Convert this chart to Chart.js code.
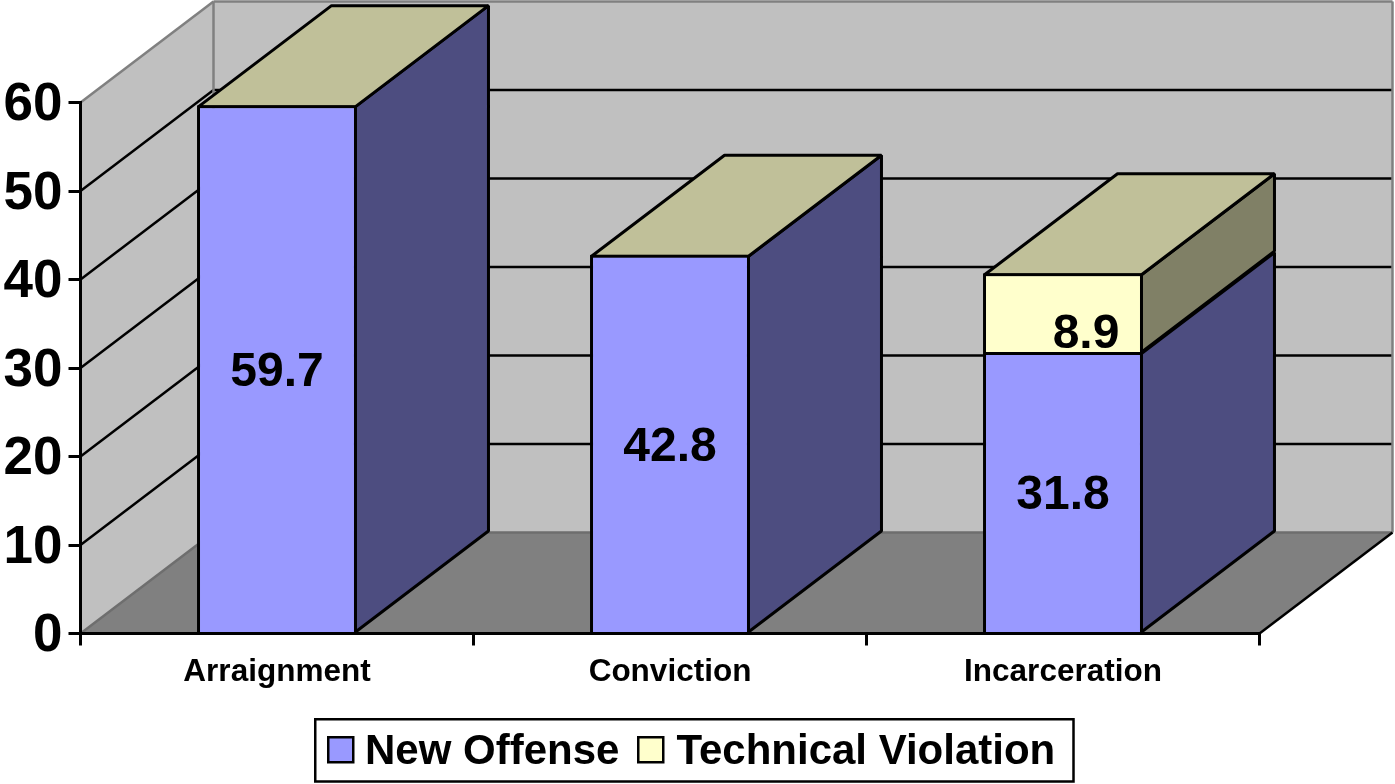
<!DOCTYPE html>
<html>
<head>
<meta charset="utf-8">
<style>html,body{margin:0;padding:0;background:#fff}canvas{display:block}</style>
<script src="https://cdn.jsdelivr.net/npm/chart.js@4/dist/chart.umd.min.js"></script>
</head>
<body>
<canvas id="c" width="1395" height="784"></canvas>
<script>
const categories = ['Arraignment', 'Conviction', 'Incarceration'];
const newOffense = [59.7, 42.8, 31.8];
const technicalViolation = [0, 0, 8.9];
const seriesNames = ['New Offense', 'Technical Violation'];
const yMax = 60;
const yStep = 10;

const FONT = '"Liberation Sans", Arial, sans-serif';
const DX = 133, DY = -101;
const LINE = 3;
const FRONT = ['#9999FF', '#FFFFCC'];
const SIDE = ['#4D4D80', '#808066'];
const TOP = '#C0C099';

function poly(ctx, pts, fill, stroke, lw) {
  ctx.beginPath();
  pts.forEach((p, i) => i ? ctx.lineTo(p[0], p[1]) : ctx.moveTo(p[0], p[1]));
  ctx.closePath();
  if (fill) { ctx.fillStyle = fill; ctx.fill(); }
  if (stroke) { ctx.strokeStyle = stroke; ctx.lineWidth = lw || 2; ctx.lineJoin = 'bevel'; ctx.stroke(); }
}
function seg(ctx, x1, y1, x2, y2, color, lw) {
  ctx.beginPath(); ctx.moveTo(x1, y1); ctx.lineTo(x2, y2);
  ctx.strokeStyle = color; ctx.lineWidth = lw; ctx.stroke();
}

const box3d = {
  id: 'box3d',
  afterLayout(chart) {
    const L = chart.legend;
    const w = L.right - L.left, h = L.bottom - L.top;
    L.left = 308; L.right = L.left + w;
    L.top = 731 - L.options.labels.padding; L.bottom = L.top + h;
    // the reference's value-axis numbers sit a little below their tick marks
    const y = chart.scales.y;
    if (!y._shifted) {
      const draw = y.drawLabels;
      y.drawLabels = function (area) {
        const ctx = this.ctx;
        ctx.save(); ctx.translate(0, 3); draw.call(this, area); ctx.restore();
      };
      y._shifted = true;
    }
  },
  beforeDraw(chart) {
    const ctx = chart.ctx, a = chart.chartArea, y = chart.scales.y;
    const l = a.left, r = a.right, t = y.getPixelForValue(yMax), b = y.getPixelForValue(0);
    ctx.save();
    // walls and floor
    poly(ctx, [[l, b], [l, t], [l + DX, t + DY], [l + DX, b + DY]], '#C0C0C0');
    poly(ctx, [[l + DX, t + DY], [r + DX, t + DY], [r + DX, b + DY], [l + DX, b + DY]], '#C0C0C0');
    poly(ctx, [[l, b], [l + DX, b + DY], [r + DX, b + DY], [r, b]], '#808080');
    // gridlines across side wall and back wall
    y.ticks.forEach(tk => {
      const p = y.getPixelForValue(tk.value);
      const col = tk.value === 0 ? '#6E6E6E' : tk.value === yMax ? '#808080' : '#000000';
      seg(ctx, l, p, l + DX, p + DY, col, 2.5);
      seg(ctx, l + DX, p + DY, r + DX, p + DY, col, 2.5);
    });
    seg(ctx, l + DX, t + DY, l + DX, b + DY, '#808080', 2.5);
    seg(ctx, r + DX, t + DY, r + DX, b + DY, '#808080', 2.5);
    seg(ctx, r, b, r + DX, b + DY, '#000000', 2.5);
    // legend frame
    ctx.fillStyle = '#FFFFFF';
    ctx.fillRect(315.25, 719.25, 758.25, 62.25);
    ctx.strokeStyle = '#000000'; ctx.lineWidth = 2.5;
    ctx.strokeRect(315.25, 719.25, 758.25, 62.25);
    ctx.restore();
  },
  beforeDatasetsDraw(chart) {
    const ctx = chart.ctx;
    const last = chart.data.datasets.length - 1;
    ctx.save();
    chart.data.labels.forEach((_, j) => {
      chart.data.datasets.forEach((ds, i) => {
        const e = chart.getDatasetMeta(i).data[j].getProps(['x', 'y', 'base', 'width'], true);
        const xl = e.x - e.width / 2 + LINE / 2, xr = e.x + e.width / 2 - LINE / 2;
        const yt = e.y + LINE / 2;
        if (e.base - e.y > 0.5) {
          poly(ctx, [[xr, yt], [xr + DX, yt + DY], [xr + DX, e.base + DY], [xr, e.base]], SIDE[i], '#000000', LINE);
        }
        if (i === last) {
          poly(ctx, [[xl, yt], [xl + DX, yt + DY], [xr + DX, yt + DY], [xr, yt]], TOP, '#000000', LINE);
        }
      });
    });
    ctx.restore();
  },
  afterDatasetsDraw(chart) {
    const ctx = chart.ctx;
    ctx.save();
    ctx.font = 'bold 48px ' + FONT;
    ctx.fillStyle = '#000000';
    ctx.textAlign = 'center';
    ctx.textBaseline = 'middle';
    chart.data.datasets.forEach((ds, i) => {
      chart.getDatasetMeta(i).data.forEach((el, j) => {
        const v = ds.data[j];
        if (!v) return;
        const e = el.getProps(['x', 'y', 'base'], true);
        const tx = i === 1 ? e.x + 23 : e.x;
        const ty = (e.y + e.base) / 2 + (i === 1 ? 22 : 4);
        ctx.fillText(v.toFixed(1), tx, ty);
      });
    });
    ctx.restore();
  },
  afterDraw(chart) {
    const ctx = chart.ctx;
    ctx.save();
    const itemsX = [328.25, 638.25];
    FRONT.forEach((c, i) => {
      ctx.fillStyle = c; ctx.strokeStyle = '#000000'; ctx.lineWidth = 2.5;
      ctx.fillRect(itemsX[i], 737.25, 25, 25);
      ctx.strokeRect(itemsX[i], 737.25, 25, 25);
    });
    ctx.restore();
  }
};

new Chart(document.getElementById('c'), {
  type: 'bar',
  data: {
    labels: categories,
    datasets: [
      { label: seriesNames[0], data: newOffense, backgroundColor: FRONT[0], borderColor: '#000000', borderWidth: LINE },
      { label: seriesNames[1], data: technicalViolation, backgroundColor: FRONT[1], borderColor: '#000000', borderWidth: LINE }
    ]
  },
  options: {
    responsive: false,
    animation: false,
    events: [],
    layout: { padding: { top: 102.5, right: 135.5, left: 0, bottom: 0 } },
    datasets: { bar: { categoryPercentage: 1, barPercentage: 0.407 } },
    plugins: {
      tooltip: { enabled: false },
      title: { display: false },
      legend: {
        display: true,
        position: 'bottom',
        align: 'start',
        labels: {
          color: '#000000',
          boxWidth: 17, boxHeight: 17, padding: 19,
          font: { family: FONT, size: 42, weight: 'bold' },
          generateLabels(chart) {
            return Chart.defaults.plugins.legend.labels.generateLabels(chart)
              .map(item => ({ ...item, lineWidth: 0 }));
          }
        }
      }
    },
    scales: {
      x: {
        stacked: true,
        afterFit(s) { s.height = 150.5 - s.chart.legend.height; },
        grid: { display: true, drawOnChartArea: false, drawTicks: true, tickLength: 12, color: '#000000', lineWidth: 3, offset: true },
        border: { display: true, color: '#000000', width: 3 },
        ticks: { color: '#000000', padding: 8, maxRotation: 0, font: { family: FONT, size: 31.5, weight: 'bold' } }
      },
      y: {
        stacked: true,
        min: 0, max: yMax,
        afterFit(s) { s.width = 80.5; },
        grid: { display: true, drawOnChartArea: false, drawTicks: true, tickLength: 12, color: '#000000', lineWidth: 3 },
        border: { display: true, color: '#000000', width: 3 },
        ticks: { stepSize: yStep, color: '#000000', padding: 6, font: { family: FONT, size: 53, weight: 'bold' } }
      }
    }
  },
  plugins: [box3d]
});
</script>
</body>
</html>
